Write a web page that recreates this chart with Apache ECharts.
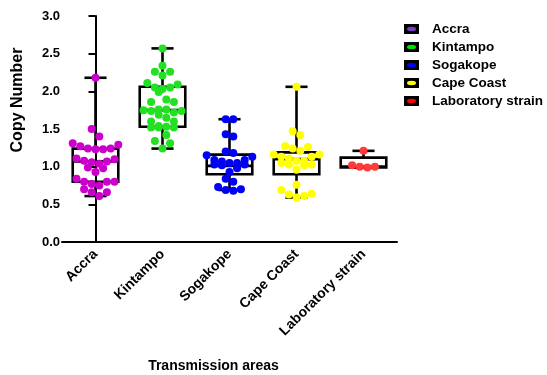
<!DOCTYPE html>
<html>
<head>
<meta charset="utf-8">
<script src="https://cdn.jsdelivr.net/npm/echarts@6/dist/echarts.min.js"></script>
<style>html,body{margin:0;padding:0;background:#fff}#c{width:547px;height:375px}</style>
</head>
<body>
<div id="c"></div>
<script>
// ---------------- data ----------------
const categories = ['Accra', 'Kintampo', 'Sogakope', 'Cape Coast', 'Laboratory strain'];
const yTicks = [0, 0.5, 1.0, 1.5, 2.0, 2.5, 3.0];

const accra = [2.18, 1.50, 1.40, 1.31, 1.29, 1.27, 1.24, 1.24, 1.23, 1.23, 1.11, 1.10, 1.08, 1.07, 1.06, 1.04,
  0.99, 0.98, 0.93, 0.84, 0.80, 0.80, 0.80, 0.77, 0.75, 0.70, 0.66, 0.66, 0.61];
const kintampo = [2.57, 2.34, 2.26, 2.26, 2.21, 2.11, 2.09, 2.05, 2.05, 2.03, 1.99, 1.89, 1.86, 1.86, 1.76, 1.76,
  1.75, 1.74, 1.74, 1.72, 1.69, 1.65, 1.60, 1.60, 1.54, 1.53, 1.52, 1.52, 1.52, 1.42, 1.34, 1.31, 1.24];
const sogakope = [1.63, 1.63, 1.43, 1.40, 1.20, 1.18, 1.15, 1.13, 1.09, 1.09, 1.07, 1.05, 1.05, 1.03, 1.03, 1.02,
  0.98, 0.93, 0.84, 0.80, 0.73, 0.70, 0.69, 0.68];
const capeCoast = [2.06, 1.47, 1.42, 1.27, 1.26, 1.24, 1.21, 1.16, 1.16, 1.13, 1.13, 1.11, 1.08, 1.08, 1.05, 1.03,
  1.03, 1.02, 0.96, 0.76, 0.69, 0.64, 0.63, 0.61, 0.59];
const labStrain = [1.21, 1.02, 1.00, 1.00, 0.99];

// box statistics: [low whisker, Q1, median, Q3, high whisker]
const boxAccra = [0.61, 0.80, 1.07, 1.24, 2.18];
const boxKintampo = [1.24, 1.53, 1.75, 2.06, 2.57];
const boxSogakope = [0.69, 0.90, 1.01, 1.16, 1.63];
const boxCapeCoast = [0.59, 0.90, 1.10, 1.19, 2.06];
const boxLab = [0.99, 0.99, 1.00, 1.12, 1.21];

const pointColors = ['#CC00CC', '#22E022', '#0000F5', '#FFFF00', '#FF3B3B'];
const legendColors = ['#7A3CC0', '#00E000', '#0000FF', '#FFFF00', '#FF0000'];

// ---------------- layout ----------------
const W = 547, H = 375;
const gridLeft = 62, gridRight = 150, gridTop = 16, gridBottom = 133;
const plotW = W - gridLeft - gridRight, plotH = H - gridTop - gridBottom;
const yMax = 3;
const pxPerY = plotH / yMax, pxPerCat = plotW / categories.length;
const dotD = 8;

// row-binned dot plot layout (like GraphPad scatter dot plots)
function swarm(values) {
  const order = values.map((v, i) => i).sort((a, b) => values[a] - values[b]);
  const offs = new Array(values.length).fill(0);
  const binH = dotD / pxPerY;
  const spacing = dotD * 0.95;
  let k = 0;
  while (k < order.length) {
    const start = values[order[k]];
    const row = [];
    while (k < order.length && values[order[k]] - start < binH) { row.push(order[k]); k++; }
    const n = row.length;
    const slots = [];
    for (let j = 0; j < n; j++) slots.push((j - (n - 1) / 2) * spacing);
    slots.sort((a, b) => Math.abs(a) - Math.abs(b) || b - a);
    row.forEach((idx, j) => { offs[idx] = slots[j]; });
  }
  return offs;
}

const groups = [accra, kintampo, sogakope, capeCoast, labStrain];
const boxes = [boxAccra, boxKintampo, boxSogakope, boxCapeCoast, boxLab];

const font = "'Liberation Sans', Arial, sans-serif";

const scatterSeries = groups.map((vals, gi) => {
  const offs = swarm(vals);
  return {
    name: categories[gi],
    type: 'scatter',
    xAxisIndex: 1,
    symbol: 'circle',
    symbolSize: dotD,
    z: 5,
    itemStyle: { color: pointColors[gi], opacity: 1 },
    data: vals.map((v, i) => [gi + offs[i] / pxPerCat, v])
  };
});

const boxSeries = {
  type: 'custom',
  xAxisIndex: 0,
  z: 3,
  silent: true,
  encode: { x: 0, y: [1, 2, 3, 4, 5] },
  data: boxes.map((b, i) => [i, b[0], b[1], b[2], b[3], b[4]]),
  renderItem: function (params, api) {
    const x = api.value(0);
    const band = api.size([1, 0])[0];
    const hw = band * 0.34, cw = band * 0.165;
    const c = api.coord([x, api.value(1)]);
    const pLow = c[1];
    const pQ1 = api.coord([x, api.value(2)])[1];
    const pMed = api.coord([x, api.value(3)])[1];
    const pQ3 = api.coord([x, api.value(4)])[1];
    const pHigh = api.coord([x, api.value(5)])[1];
    const cx = c[0];
    const st = { stroke: '#000', lineWidth: 2.6, fill: null };
    return {
      type: 'group',
      children: [
        { type: 'rect', shape: { x: cx - hw, y: pQ3, width: 2 * hw, height: pQ1 - pQ3 }, style: st },
        { type: 'line', shape: { x1: cx - hw, y1: pMed, x2: cx + hw, y2: pMed }, style: st },
        { type: 'line', shape: { x1: cx, y1: pQ3, x2: cx, y2: pHigh }, style: st },
        { type: 'line', shape: { x1: cx, y1: pQ1, x2: cx, y2: pLow }, style: st },
        { type: 'line', shape: { x1: cx - cw, y1: pHigh, x2: cx + cw, y2: pHigh }, style: st },
        { type: 'line', shape: { x1: cx - cw, y1: pLow, x2: cx + cw, y2: pLow }, style: st }
      ]
    };
  }
};

const legendBase = {
  orient: 'vertical',
  left: 399,
  top: 17,
  itemGap: 4,
  selectedMode: false,
  textStyle: { fontFamily: font, fontWeight: 'bold', fontSize: 13.5, color: '#000', lineHeight: 13, padding: [0, 0, 0, 8] }
};

const chart = echarts.init(document.getElementById('c'), null, { renderer: 'canvas' });
chart.setOption({
  animation: false,
  backgroundColor: '#fff',
  grid: { left: gridLeft, right: gridRight, top: gridTop, bottom: gridBottom, containLabel: false, outerBoundsMode: 'none' },
  legend: [
    Object.assign({}, legendBase, {
      icon: 'rect', itemWidth: 15, itemHeight: 10,
      itemStyle: { color: '#000', borderWidth: 0 },
      data: categories.slice()
    }),
    Object.assign({}, legendBase, {
      left: 402,
      icon: 'path://M0,5A10,5 0 1 1 20,5A10,5 0 1 1 0,5Z', itemWidth: 9, itemHeight: 7,
      textStyle: Object.assign({}, legendBase.textStyle, { color: 'rgba(0,0,0,0)', padding: [0, 0, 0, 14] }),
      data: categories.map((n, i) => ({ name: n, itemStyle: { color: legendColors[i], borderWidth: 0 } }))
    })
  ],
  xAxis: [{
    type: 'category',
    data: categories,
    boundaryGap: true,
    axisLine: { lineStyle: { color: '#000', width: 2 } },
    axisTick: { alignWithLabel: true, length: 5, lineStyle: { color: '#000', width: 2 } },
    axisLabel: { rotate: 45, margin: 10, color: '#000', fontFamily: font, fontWeight: 'bold', fontSize: 14, interval: 0 },
    splitLine: { show: false },
    name: 'Transmission areas',
    nameLocation: 'middle',
    nameGap: 117,
    nameTextStyle: { fontFamily: font, fontWeight: 'bold', fontSize: 14, color: '#000', padding: [0, 32, 0, 0] }
  }, {
    type: 'value', min: -0.5, max: categories.length - 0.5, show: false, splitLine: { show: false }
  }],
  yAxis: {
    type: 'value',
    min: yTicks[0], max: yTicks[yTicks.length - 1], interval: 0.5,
    axisLine: { show: true, lineStyle: { color: '#000', width: 2 } },
    axisTick: { show: true, length: 7, lineStyle: { color: '#000', width: 2 } },
    axisLabel: { color: '#000', fontFamily: font, fontWeight: 'bold', fontSize: 13, margin: 2, formatter: v => v.toFixed(1) },
    splitLine: { show: false },
    name: 'Copy Number',
    nameLocation: 'middle',
    nameGap: 36,
    nameTextStyle: { fontFamily: font, fontWeight: 'bold', fontSize: 16, color: '#000', padding: [0, 0, 0, 58] }
  },
  series: [boxSeries].concat(scatterSeries)
});
</script>
</body>
</html>
